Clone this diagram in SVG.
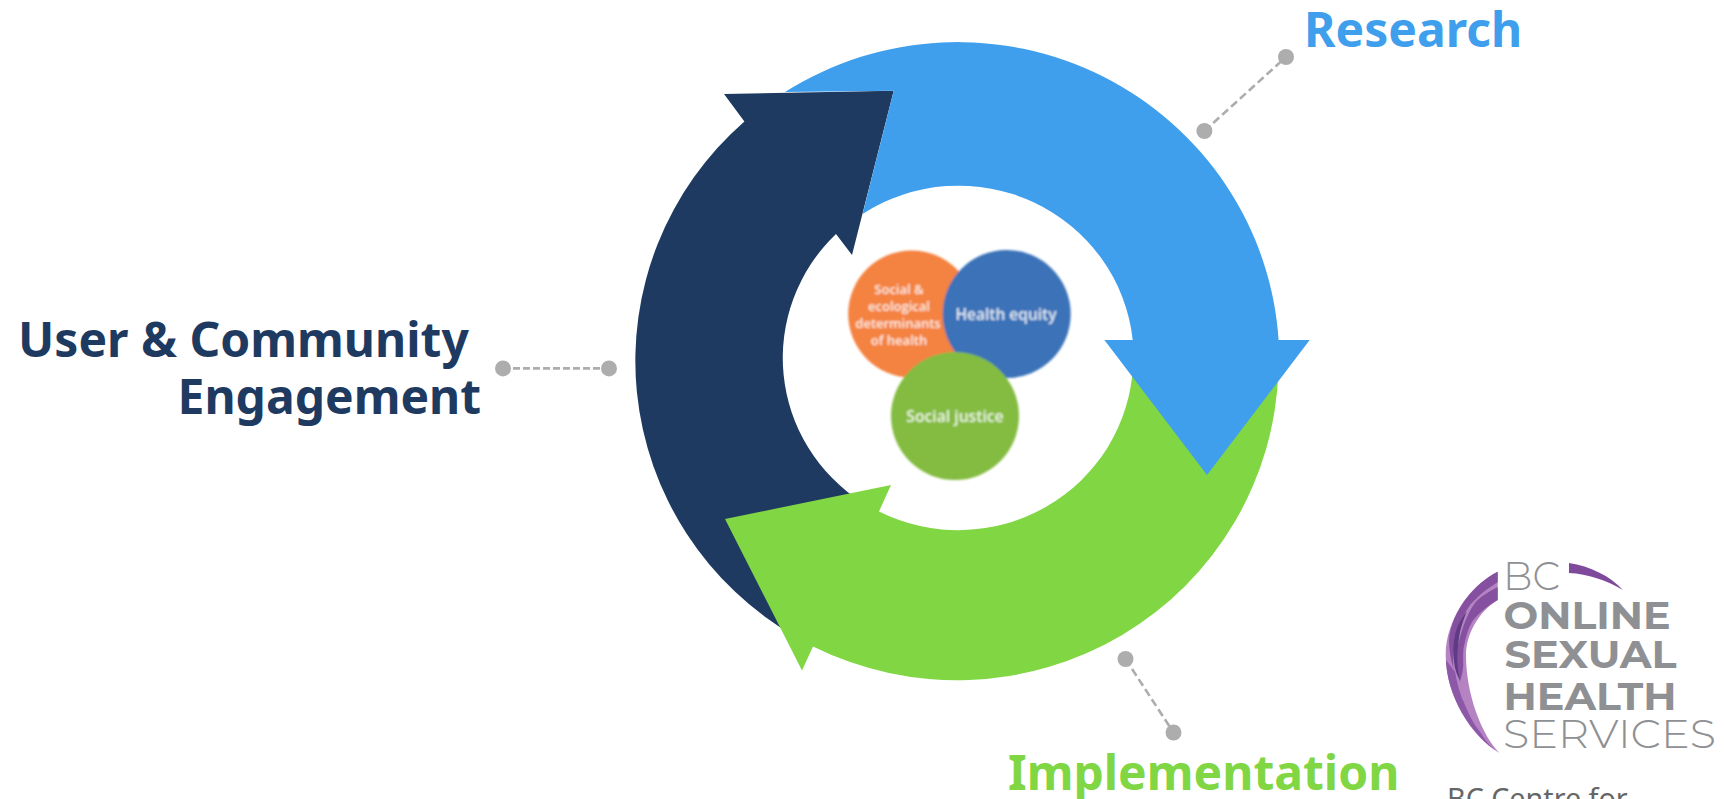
<svg xmlns="http://www.w3.org/2000/svg" width="1724" height="799" viewBox="0 0 1724 799">
<defs>
<style>
.lbl{font-family:"Noto Sans","Open Sans",sans-serif;font-weight:700;font-size:48px}
.dot{fill:#adadad}
.dash{stroke:#adadad;stroke-width:2.6;stroke-dasharray:8 4;fill:none}
.in{font-family:"Open Sans","Noto Sans",sans-serif;fill:#fff;text-anchor:middle;font-weight:600;opacity:.85}
.logo{font-family:"Montserrat","Inter","Liberation Sans",sans-serif;fill:#8f9093}
</style>
<filter id="soft" x="-5%" y="-5%" width="110%" height="110%"><feGaussianBlur stdDeviation="0.8"/></filter>
</defs>
<rect width="1724" height="799" fill="#fff"/>
<g id="arrow-engagement"><path fill="#1e3a60" d="M724,94L893.7,90.7L852,255L836,234A175 172.5 0 0 0 862.5,502.6L796,637A321.6 319 0 0 1 744.4,121.4Z"/></g>
<g id="arrow-implementation"><path fill="#80d643" d="M891,485L725,519L802,670.5L813,646.5A321.6 319 0 0 0 1278.4,370L1133,365A175 172.5 0 0 1 879,511.5Z"/></g>
<g id="arrow-research"><path fill="#409fed" d="M785,92A321.6 319 0 0 1 1278.6,340L1309.7,340L1207,475L1104.4,340L1132.7,340A175 172.5 0 0 0 862.6,214L893.7,90.7Z"/></g>
<g id="centre" filter="url(#soft)">
<circle cx="911.7" cy="314" r="63.5" fill="#f4823f"/>
<circle cx="1006.7" cy="314" r="64" fill="#3a72b8"/>
<circle cx="955" cy="416" r="64" fill="#83bc41"/>
<text class="in" font-size="13" x="899" y="294">Social &amp;</text>
<text class="in" font-size="13" x="899" y="311">ecological</text>
<text class="in" font-size="13" x="898" y="328">determinants</text>
<text class="in" font-size="13" x="899" y="345">of health</text>
<text class="in" font-size="15.5" x="1006" y="320">Health equity</text>
<text class="in" font-size="15.7" x="955" y="422">Social justice</text>
</g>
<g id="connectors">
<path class="dash" style="stroke-dasharray:7 3" d="M503,368.4H609"/>
<path class="dash" d="M1204.4,131L1286,57"/>
<path class="dash" d="M1125.5,659L1173.5,732.5"/>
<circle class="dot" cx="503" cy="368.4" r="8"/><circle class="dot" cx="609" cy="368.4" r="8"/>
<circle class="dot" cx="1204.4" cy="131" r="8"/><circle class="dot" cx="1286" cy="57" r="8"/>
<circle class="dot" cx="1125.5" cy="659" r="8"/><circle class="dot" cx="1173.5" cy="732.5" r="8"/>
</g>
<g id="label-research"><text class="lbl" x="1304" y="47" fill="#409fed">Research</text></g>
<g id="label-engagement" fill="#1e3a60">
<text class="lbl" x="18" y="357">User &amp; Community</text>
<text class="lbl" x="177.5" y="414">Engagement</text>
</g>
<g id="label-implementation"><text class="lbl" x="1008" y="790" fill="#80d643">Implementation</text></g>
<g id="logo">
<path fill="#b583c2" d="M1497.7,571.7C1470,585 1445.7,620 1445.7,655C1445.7,695 1470,735 1499.3,753C1482,735 1466,695 1466,655C1466,635 1478,612 1497.7,600Z"/>
<path fill="#84509f" d="M1497.7,571.7C1475,583 1452,610 1449,640C1449,650 1451,660 1453.3,668.3C1453,662 1453,655 1455,645C1456,635 1460,620 1470,605C1478,596 1488,588 1497.7,582.3Z"/>
<path fill="#84509f" d="M1497.7,587C1488,592 1480,597 1475,603C1466,615 1460,635 1456.7,651.7C1456,663 1457,673 1460,681.7C1462,675 1463,670 1463.3,665C1463,655 1463,648 1465,641.7C1467,632 1470,625 1473.3,620C1480,612 1490,604 1497.7,600Z"/>
<path fill="#8d58a8" d="M1446,660C1447,695 1470,735 1499.3,753C1490,747 1485,740 1480,731.7C1472,722 1468,712 1465,705C1460,695 1457,683 1455,671.7C1452,668 1449,664 1446,660Z"/>
<path fill="#5f3b85" d="M1466.7,611.7C1460,620 1457,627 1455,635C1453,645 1453,653 1454,661.7C1455,670 1457,675 1460,680C1458,672 1457,663 1457.3,655C1458,645 1459,638 1460,631.7C1462,624 1464,618 1466.7,611.7Z"/>
<path fill="#7f4a9b" d="M1569,563C1590,566 1610,576 1623,590C1606,580 1588,574 1569,573Z"/>
<text class="logo" font-weight="300" font-size="39" x="1503" y="590" textLength="57" lengthAdjust="spacingAndGlyphs">BC</text>
<text class="logo" font-weight="700" font-size="38" x="1503.5" y="629" textLength="167" lengthAdjust="spacingAndGlyphs">ONLINE</text>
<text class="logo" font-weight="700" font-size="38" x="1504.5" y="668" textLength="172" lengthAdjust="spacingAndGlyphs">SEXUAL</text>
<text class="logo" font-weight="700" font-size="38" x="1503.5" y="710" textLength="173" lengthAdjust="spacingAndGlyphs">HEALTH</text>
<text class="logo" font-weight="300" font-size="39" x="1503" y="748" textLength="213" lengthAdjust="spacingAndGlyphs">SERVICES</text>
<text font-family="'Noto Sans','Open Sans',sans-serif" font-size="28.7" fill="#666" x="1447" y="809">BC Centre for</text>
</g>
</svg>
